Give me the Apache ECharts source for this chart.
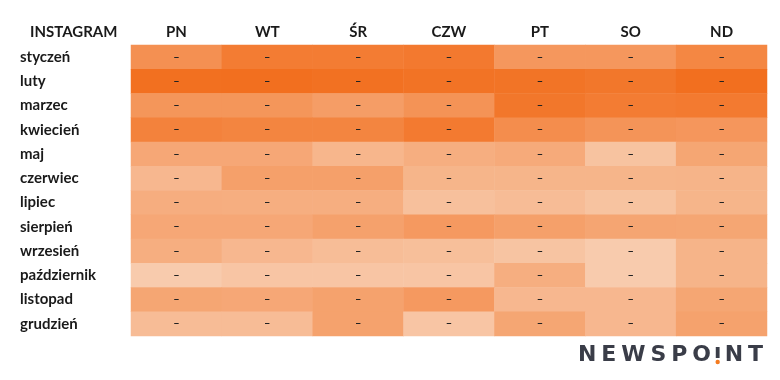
<!DOCTYPE html>
<html><head><meta charset="utf-8">
<script src="https://cdn.jsdelivr.net/npm/echarts@6/dist/echarts.min.js"></script>
<style>html,body{margin:0;padding:0;background:#fff}#c{width:780px;height:380px}</style>
</head><body><div id="c"></div>
<script>
const days = ['PN','WT','ŚR','CZW','PT','SO','ND'];
const months = ['styczeń','luty','marzec','kwiecień','maj','czerwiec','lipiec','sierpień','wrzesień','październik','listopad','grudzień'];
const styczen    = [65, 86, 86, 89, 57, 57, 75];
const luty       = [99, 100, 98, 96, 95, 92, 100];
const marzec     = [59, 59, 51, 62, 92, 86, 88];
const kwiecien   = [80, 77, 77, 88, 68, 61, 58];
const maj        = [40, 40, 25, 33, 37, 11, 42];
const czerwiec   = [23, 48, 48, 26, 26, 26, 27];
const lipiec     = [34, 33, 33, 14, 18, 11, 26];
const sierpien   = [40, 40, 47, 55, 48, 43, 42];
const wrzesien   = [33, 23, 17, 15, 10, 2, 27];
const pazdziernik= [2, 8, 8, 8, 33, 2, 27];
const listopad   = [42, 40, 46, 55, 23, 23, 42];
const grudzien   = [18, 18, 46, 8, 42, 23, 46];
const rows = [styczen, luty, marzec, kwiecien, maj, czerwiec, lipiec, sierpien, wrzesien, pazdziernik, listopad, grudzien];
const data = [];
rows.forEach((r, yi) => r.forEach((v, xi) => data.push([xi, yi, v])));

// Logo "NEWSPO!NT", evenly spaced letters
const logoFont = 'bold 22px "DejaVu Sans"';
const logoFill = '#3a3d48';
const logoText = ['N','E','W','S','P','O','!','N','T'];
const mctx = document.createElement('canvas').getContext('2d');
mctx.font = logoFont;
const widths = logoText.map(ch => ch === '!' ? 4 : mctx.measureText(ch).width);
const logoStart = 578, logoEnd = 763;
const gap = (logoEnd - logoStart - widths.reduce((a, b) => a + b, 0)) / (logoText.length - 1);
const logo = [];
let cx = logoStart;
logoText.forEach((ch, i) => {
  if (ch === '!') {
    logo.push({ type: 'rect', shape: { x: cx, y: 347, width: 3.8, height: 11 }, style: { fill: logoFill } });
    logo.push({ type: 'circle', shape: { cx: cx + 1.9, cy: 362, r: 2.2 }, style: { fill: '#f47b20' } });
  } else {
    logo.push({ type: 'text', x: cx, y: 355, style: { text: ch, font: logoFont, fill: logoFill, verticalAlign: 'middle', align: 'left' } });
  }
  cx += widths[i] + gap;
});

const chart = echarts.init(document.getElementById('c'));
chart.setOption({
  animation: false,
  textStyle: { fontFamily: 'Lato' },
  grid: { left: 131, right: 13, top: 45, bottom: 44 },
  xAxis: {
    type: 'category', data: days, position: 'top',
    axisLine: { show: false }, axisTick: { show: false }, splitLine: { show: false },
    axisLabel: { fontFamily: 'Lato', fontWeight: 'bold', fontSize: 15, color: '#1a1a1a', margin: 5 }
  },
  yAxis: {
    type: 'category', data: months, inverse: true,
    axisLine: { show: false }, axisTick: { show: false }, splitLine: { show: false },
    axisLabel: { fontFamily: 'Lato', fontWeight: 'bold', fontSize: 15, color: '#1a1a1a', align: 'left', margin: 111 }
  },
  visualMap: {
    show: false, min: 0, max: 100, dimension: 2,
    inRange: { color: ['#f8cdb0', '#f26f1f'] }
  },
  series: [{
    type: 'heatmap', data: data,
    itemStyle: { borderWidth: 0 },
    label: { show: true, formatter: '–', fontSize: 11, fontWeight: 'bold', color: '#222', fontFamily: 'Lato' }
  }],
  graphic: [
    { type: 'text', left: 30, top: 25, style: { text: 'INSTAGRAM', font: 'bold 15px Lato', fill: '#1a1a1a' } }
  ].concat(logo)
});
</script></body></html>
